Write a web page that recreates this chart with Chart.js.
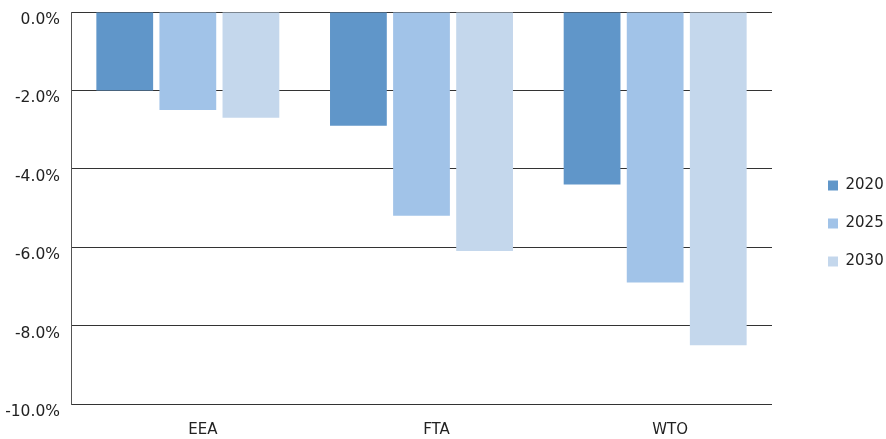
<!DOCTYPE html>
<html>
<head>
<meta charset="utf-8">
<script src="https://cdn.jsdelivr.net/npm/chart.js@4/dist/chart.umd.min.js"></script>
<style>
html,body{margin:0;padding:0;background:#fff;}
#wrap{width:886px;height:439px;}
</style>
</head>
<body>
<div id="wrap"><canvas id="c" width="886" height="439"></canvas></div>
<script>
const categories = ["EEA", "FTA", "WTO"];
const seriesNames = ["2020", "2025", "2030"];
const values2020 = [-2.0, -2.9, -4.4];
const values2025 = [-2.5, -5.2, -6.9];
const values2030 = [-2.7, -6.1, -8.5];
const yTicks = [0, -2, -4, -6, -8, -10];
const colors = ["#6096C9", "#A1C3E8", "#C4D7EC"];

const FONT = "'DejaVu Sans', Verdana, sans-serif";
const LEGEND_WIDTH = 114;
const LEGEND_SHIFT_X = 33;
const LEGEND_SHIFT_Y = -2;

const legendGap = {
  id: 'legendGap',
  afterInit(chart) {
    const lg = chart.legend;
    const orig = lg.fit;
    lg.fit = function () { orig.call(this); this.width = LEGEND_WIDTH; };
  },
  afterLayout(chart) {
    chart.legend.left += LEGEND_SHIFT_X;
    chart.legend.top += LEGEND_SHIFT_Y;
    chart.legend.bottom += LEGEND_SHIFT_Y;
  }
};

new Chart(document.getElementById('c'), {
  type: 'bar',
  data: {
    labels: categories,
    datasets: [values2020, values2025, values2030].map((v, i) => ({
      label: seriesNames[i],
      data: v,
      backgroundColor: colors[i],
      borderWidth: 0,
      categoryPercentage: 0.81,
      barPercentage: 0.9
    }))
  },
  plugins: [legendGap],
  options: {
    responsive: false,
    animation: false,
    layout: { padding: { left: 0, top: 12, right: 0, bottom: 0 } },
    plugins: {
      legend: {
        position: 'right',
        labels: {
          boxWidth: 10,
          boxHeight: 10,
          padding: 23,
          color: '#222',
          font: { family: FONT, size: 15 }
        }
      },
      tooltip: { enabled: false }
    },
    scales: {
      x: {
        grid: { display: false, drawTicks: false },
        border: { display: false },
        afterFit: (axis) => { axis.height = 35; axis.paddingLeft = 0; axis.paddingRight = 0; },
        ticks: { color: '#222', padding: 17, labelOffset: 15, font: { family: FONT, size: 15 } }
      },
      y: {
        min: -10,
        max: 0,
        afterFit: (axis) => { axis.width = 71; axis.paddingTop = 0; axis.paddingBottom = 0; },
        afterBuildTicks: (axis) => { axis.ticks = yTicks.map(v => ({ value: v })); },
        grid: { color: '#333', lineWidth: 1, drawTicks: false },
        border: { display: true, color: '#555', width: 1 },
        ticks: {
          color: '#222',
          padding: 11,
          labelOffset: 8,
          font: { family: FONT, size: 15.5 },
          callback: (v) => v.toFixed(1) + '%'
        }
      }
    }
  }
});
</script>
</body>
</html>
